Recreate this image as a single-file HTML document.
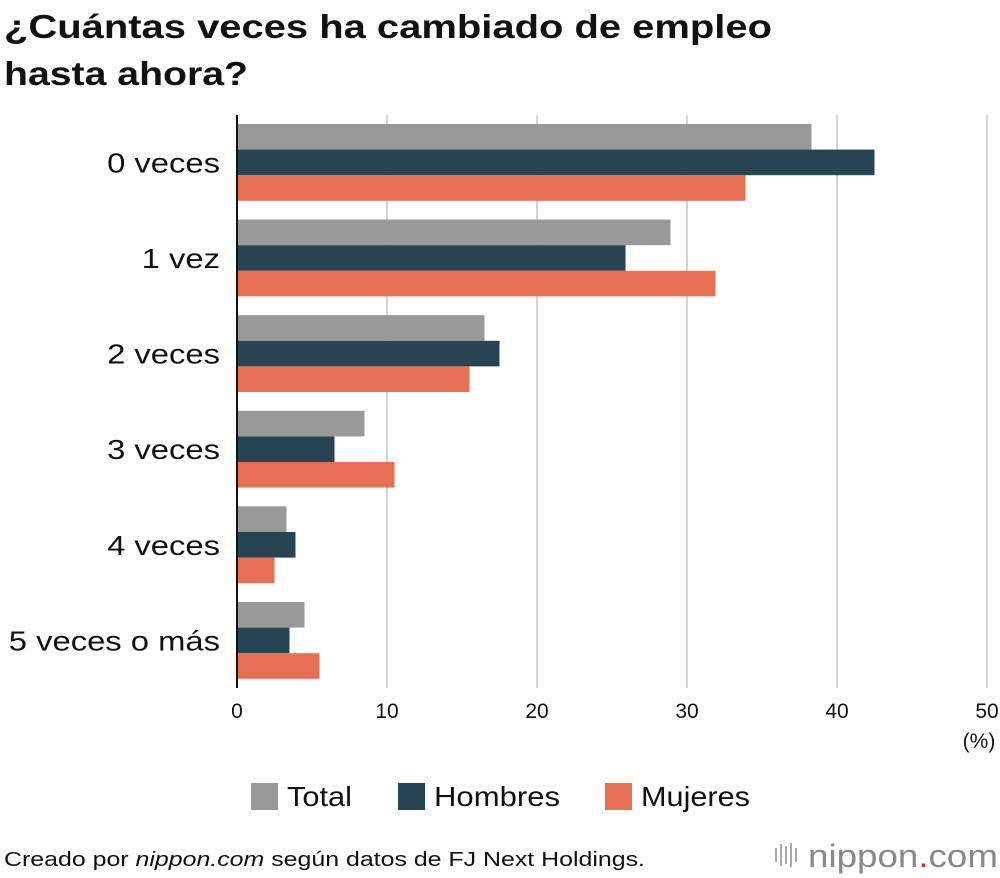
<!DOCTYPE html>
<html><head><meta charset="utf-8"><style>
body{margin:0;background:#fff;font-family:"Liberation Sans",Arial,sans-serif;}
#wrap{position:relative;width:1000px;height:878px;overflow:hidden;}
</style></head><body>
<div id="wrap">
<svg id="chart" width="1000" height="878" xmlns="http://www.w3.org/2000/svg">
<text x="4" y="38" font-size="33" font-weight="bold" fill="#111" textLength="768" lengthAdjust="spacingAndGlyphs">¿Cuántas veces ha cambiado de empleo</text>
<text x="4" y="85" font-size="33" font-weight="bold" fill="#111" textLength="244" lengthAdjust="spacingAndGlyphs">hasta ahora?</text>
<g id="grid"></g>
<g id="bars"></g>
<g id="labels"></g>
<line x1="237" y1="115" x2="237" y2="688" stroke="#111" stroke-width="2"/>
<text x="979" y="748" font-size="21" text-anchor="middle" fill="#111">(%)</text>
<g>
<rect x="251" y="783" width="27" height="27" fill="#999999"/>
<text x="287" y="806" font-size="28" fill="#111" textLength="65" lengthAdjust="spacingAndGlyphs">Total</text>
<rect x="398" y="783" width="27" height="27" fill="#264451"/>
<text x="434" y="806" font-size="28" fill="#111" textLength="126" lengthAdjust="spacingAndGlyphs">Hombres</text>
<rect x="605" y="783" width="27" height="27" fill="#e87052"/>
<text x="641" y="806" font-size="28" fill="#111" textLength="109" lengthAdjust="spacingAndGlyphs">Mujeres</text>
</g>
<text x="4" y="866" font-size="20" fill="#111" textLength="641" lengthAdjust="spacingAndGlyphs">Creado por <tspan font-style="italic">nippon.com</tspan> según datos de FJ Next Holdings.</text>
<g>
<rect x="775" y="848" width="2" height="14" fill="#aaa"/><rect x="780" y="844" width="2" height="22" fill="#aaa"/><rect x="785" y="846" width="2" height="18" fill="#aaa"/><rect x="790" y="843" width="2" height="24" fill="#aaa"/><rect x="795" y="848" width="2" height="14" fill="#aaa"/>
<text x="808" y="867" font-size="32" fill="#888" textLength="190" lengthAdjust="spacingAndGlyphs">nippon<tspan fill="#e0302a">.</tspan>com</text>
</g>
</svg>
</div>
<script>
const categories=["0 veces","1 vez","2 veces","3 veces","4 veces","5 veces o más"];
const totalValues=[38.3,28.9,16.5,8.5,3.3,4.5];
const hombresValues=[42.5,25.9,17.5,6.5,3.9,3.5];
const mujeresValues=[33.9,31.9,15.5,10.5,2.5,5.5];
const xTicks=[0,10,20,30,40,50];
const NS="http://www.w3.org/2000/svg";
const x=v=>237+v*15;
const bandTop=i=>124+i*95.6;
const barH=25.6;
const grid=document.getElementById('grid'),bars=document.getElementById('bars'),labels=document.getElementById('labels');
function mk(tag,a){const e=document.createElementNS(NS,tag);for(const k in a)e.setAttribute(k,a[k]);return e;}
xTicks.forEach(t=>{
 if(t>0){const l=mk('line',{x1:x(t),x2:x(t),y1:115,y2:688,stroke:'#d4d4d4','stroke-width':2});
 
 grid.appendChild(l);}
 const tx=mk('text',{x:x(t),y:718,'font-size':21,'text-anchor':'middle',fill:'#111'});tx.textContent=t;
 
 labels.appendChild(tx);
});
const series=[["total",totalValues,"#999999"],["hombres",hombresValues,"#264451"],["mujeres",mujeresValues,"#e87052"]];
categories.forEach((c,i)=>{
 series.forEach((s,j)=>{
  const r=mk('rect',{x:x(0),y:bandTop(i)+j*barH,width:x(s[1][i])-x(0),height:barH,fill:s[2]});
  
  bars.appendChild(r);
 });
 const t=mk('text',{x:220,y:bandTop(i)+barH*1.5+10,'font-size':28,'text-anchor':'end',fill:'#111'});t.textContent=c;
 
 labels.appendChild(t);
 const w=t.getComputedTextLength();
 t.setAttribute('textLength',(w*1.17).toFixed(1));
 t.setAttribute('lengthAdjust','spacingAndGlyphs');
});
</script>
</body></html>
